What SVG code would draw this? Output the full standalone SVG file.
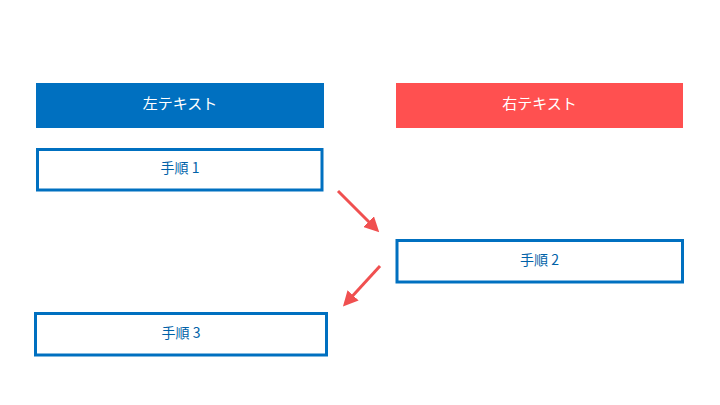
<svg xmlns="http://www.w3.org/2000/svg" width="720" height="405" viewBox="0 0 720 405">
<style>
.hdr{stroke:none}
.box{fill:#fff;stroke:#0070C0;stroke-width:3}
.t{font-family:"Noto Sans CJK JP","Noto Sans",sans-serif;font-size:14px;text-anchor:middle}
.tw{fill:#fff;font-size:15px}
.tb{fill:#0062A8}
.arr{stroke:#F05050;stroke-width:3;fill:none;marker-end:url(#ah)}
</style>
<defs>
<marker id="ah" markerWidth="5" markerHeight="5" refX="3" refY="2.5" orient="auto" markerUnits="strokeWidth">
<path d="M0,0 L5,2.5 L0,5 z" fill="#F05050"/>
</marker>
</defs>
<rect width="720" height="405" fill="#fff"/>
<g id="left-header"><rect class="hdr" x="36" y="83" width="288" height="45" fill="#0070C0"/><text class="t tw" x="180" y="109">左テキスト</text></g>
<g id="right-header"><rect class="hdr" x="396" y="83" width="287" height="45" fill="#FF5050"/><text class="t tw" x="539.5" y="109">右テキスト</text></g>
<g id="step1"><rect class="box" x="37.5" y="149.5" width="284.5" height="40.5"/><text class="t tb" x="180" y="173">手順 1</text></g>
<g id="step2"><rect class="box" x="397" y="240.5" width="285.5" height="41.5"/><text class="t tb" x="539.5" y="264.5">手順 2</text></g>
<g id="step3"><rect class="box" x="35.5" y="313.5" width="291" height="41.5"/><text class="t tb" x="181" y="337.5">手順 3</text></g>
<g id="connectors">
<line class="arr" x1="338" y1="191" x2="375" y2="228"/>
<line class="arr" x1="380" y1="266" x2="347" y2="302"/>
</g>
</svg>
